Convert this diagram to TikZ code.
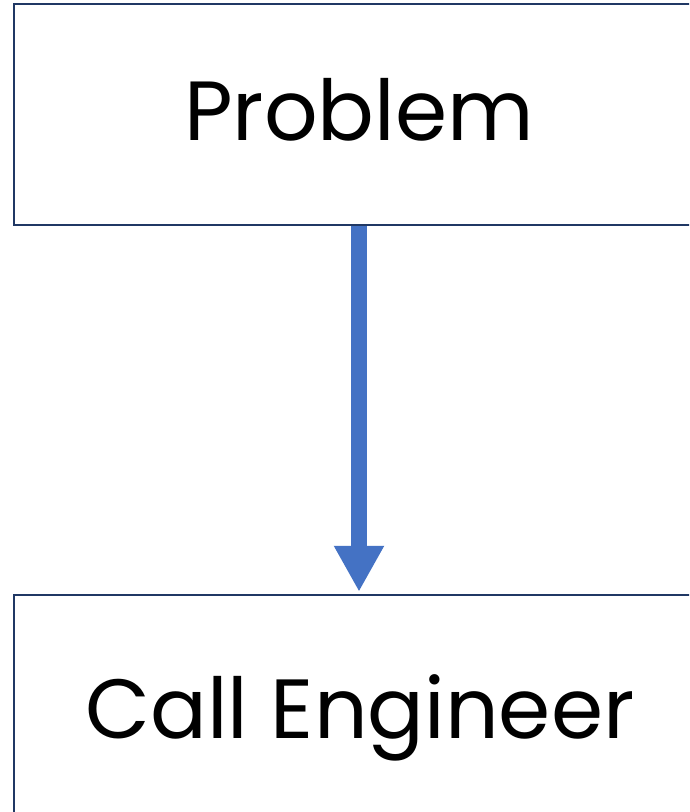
\documentclass[tikz,border=0pt]{standalone}
\usepackage{fontspec}
\setmainfont{Poppins}
\usetikzlibrary{arrows.meta}
\definecolor{boxline}{HTML}{203864}
\definecolor{flowblue}{HTML}{4472C4}
\tikzset{
  stagebox/.style={draw=boxline, line width=2.5pt, fill=white,
    minimum width=690pt, minimum height=221pt, inner sep=0pt},
  stagetext/.style={inner sep=0pt, anchor=base,
    font=\fontsize{84}{96}\selectfont},
  flowarrow/.style={draw=flowblue, line width=16pt,
    -{Triangle[length=46pt,width=47pt]}, shorten >=2pt}
}
\begin{document}
\begin{tikzpicture}[x=1pt,y=1pt]
  \useasboundingbox (0,0) rectangle (689,-812);
  \clip (0,0) rectangle (689,-812);
  \fill[white] (0,0) rectangle (689,-812);
  \node[stagebox] (problem) at (359,-114.5) {};
  \node[stagebox] (engineer) at (359,-705.5) {};
  \node[stagetext] (problemtxt) at (359,-140) {Problem};
  \node[stagetext] (engineertxt) at (360,-738) {Call Engineer};
  \draw[flowarrow] (problem.south) -- (engineer.north);
\end{tikzpicture}
\end{document}
